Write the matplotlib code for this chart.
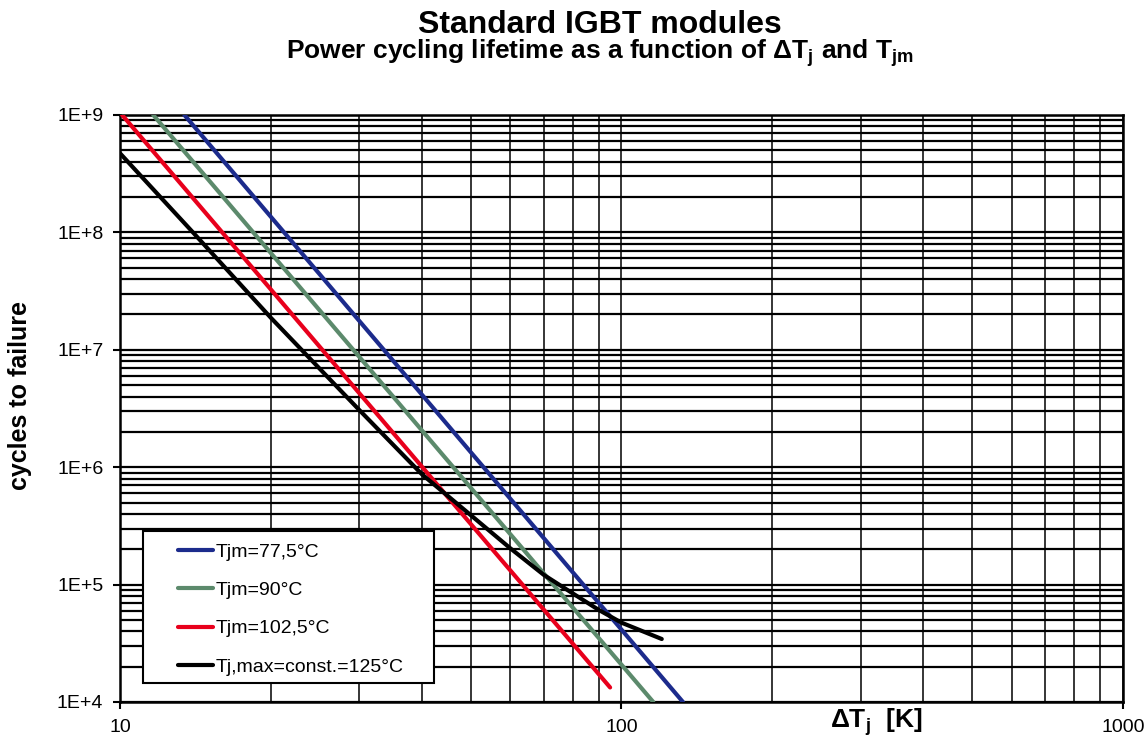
import math
import matplotlib
matplotlib.use("Agg")
import matplotlib.pyplot as plt
from matplotlib.ticker import LogLocator, FixedLocator, FuncFormatter, NullFormatter
from matplotlib.patches import Rectangle

plt.rcParams['font.family'] = ['Liberation Sans', 'DejaVu Sans']
plt.rcParams['mathtext.fontset'] = 'custom'
plt.rcParams['mathtext.rm'] = 'Liberation Sans'
plt.rcParams['mathtext.bf'] = 'Liberation Sans:bold'
plt.rcParams['mathtext.it'] = 'Liberation Sans:italic'

# data (delta Tj in K, cycles to failure)

dt_blue = [13.44, 132.6]
n_blue = [1e9, 1e4]

dt_green = [11.65, 115.7]
n_green = [1e9, 1e4]

dt_red = [10.1, 94.9]
n_red = [1e9, 1.33e4]

dt_black = [10, 13.98, 20, 30, 40, 50, 60, 70, 80, 90, 100, 120.3]
n_black = [4.72e8, 1e8, 1.87e7, 3.07e6, 8.7e5, 3.92e5, 2.04e5, 1.21e5, 8.4e4, 6.1e4, 4.74e4, 3.44e4]

labels = ['Tjm=77,5°C', 'Tjm=90°C', 'Tjm=102,5°C', 'Tj,max=const.=125°C']
colors = ['#1c2b8c', '#5c8a6c', '#e8001c', '#000000']

y_ticks = [1e4, 1e5, 1e6, 1e7, 1e8, 1e9]
x_ticks = [10, 100, 1000]

# figure

fig = plt.figure(figsize=(11.47, 7.46), dpi=100)
ax = fig.add_axes([120 / 1147, 1 - 702 / 746, 1003 / 1147, 587 / 746])

series = [(dt_blue, n_blue), (dt_green, n_green), (dt_red, n_red), (dt_black, n_black)]
for (x, y), lab, col in zip(series, labels, colors):
    ax.plot(x, y, color=col, lw=3, label=lab, solid_capstyle='round', zorder=3)

ax.set_xscale('log')
ax.set_yscale('log')
ax.set_xlim(10, 1000)
ax.set_ylim(1e4, 1e9)

ax.xaxis.set_major_locator(FixedLocator(x_ticks))
ax.yaxis.set_major_locator(FixedLocator(y_ticks))
ax.xaxis.set_minor_locator(LogLocator(base=10, subs=range(2, 10), numticks=20))
ax.yaxis.set_minor_locator(LogLocator(base=10, subs=range(2, 10), numticks=20))
ax.xaxis.set_minor_formatter(NullFormatter())
ax.yaxis.set_minor_formatter(NullFormatter())
ax.xaxis.set_major_formatter(FuncFormatter(lambda v, p: f"{v:g}"))
ax.yaxis.set_major_formatter(FuncFormatter(lambda v, p: f"1E+{int(round(math.log10(v)))}"))

ax.tick_params(which='major', direction='out', length=5, width=1.5, labelsize=14, pad=7)
ax.tick_params(which='minor', length=0)

# grid: dense horizontal lines, thinner vertical lines

ax.grid(which='both', axis='y', color='black', lw=1.6)
ax.grid(which='both', axis='x', color='black', lw=1.1)
ax.set_axisbelow(True)
for sp in ax.spines.values():
    sp.set_linewidth(1.8)

# legend box drawn as a patch, entries on top

ax.add_patch(Rectangle((23 / 1003, 19 / 587), 291 / 1003, 152 / 587, transform=ax.transAxes,
                       facecolor='white', edgecolor='black', lw=1.5, zorder=4))
leg = ax.legend(loc='upper left', bbox_to_anchor=(58 / 1003, 159 / 587),
                frameon=False, fontsize=14, handlelength=1.8, handletextpad=0.15,
                labelspacing=1.07, borderpad=0, borderaxespad=0)
leg.set_zorder(5)

# titles and axis labels

fig.text(600 / 1147, 1 - 25 / 746, 'Standard IGBT modules', fontsize=23, fontweight='bold',
         ha='center', va='center')
fig.text(600 / 1147, 1 - 53 / 746,
         r'Power cycling lifetime as a function of $\mathbf{\Delta T_j}$ and $\mathbf{T_{jm}}$',
         fontsize=19, fontweight='bold', ha='center', va='center')
fig.text(20 / 1147, 1 - 396 / 746, 'cycles to failure', fontsize=18, fontweight='bold',
         rotation=90, ha='center', va='center')
fig.text(876 / 1147, 1 - 722 / 746, r'$\mathbf{\Delta T_j}$  [K]', fontsize=19, fontweight='bold',
         ha='center', va='center')

plt.savefig('out.png', dpi=100)
